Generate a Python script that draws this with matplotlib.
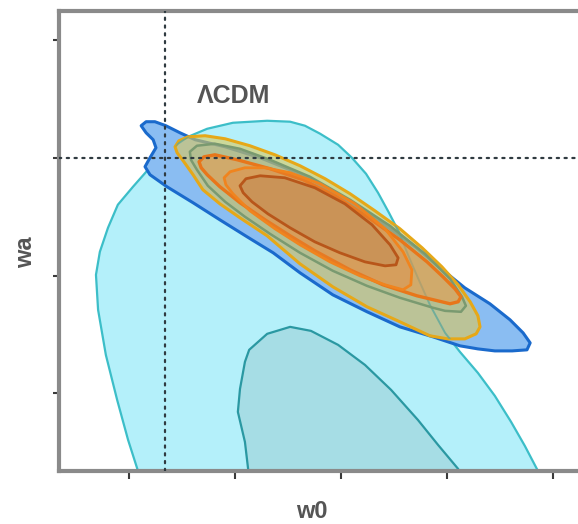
import matplotlib
matplotlib.use("Agg")
import matplotlib.pyplot as plt
from matplotlib.patches import Polygon

# ---- contour outlines in the (w0, wa) plane ----
# wide constraint, 95% region
cmb95_w0 = [-1.082, -1.076, -1.104, -1.135, -1.167, -1.189, -1.195, -1.184, -1.161, -1.133,
            -1.090, -1.050, -1.008, -0.971, -0.934, -0.880, -0.807, -0.710, -0.645, -0.603,
            -0.560, -0.509, -0.470, -0.430, -0.396, -0.365, -0.337, -0.311, -0.283, -0.249,
            -0.206, -0.164, -0.113, -0.065, -0.019, 0.020, 0.057, 0.066]
cmb95_wa = [-2.778, -2.659, -2.396, -2.056, -1.674, -1.291, -0.994, -0.799, -0.595, -0.399,
            -0.246, -0.110, 0.008, 0.102, 0.178, 0.246, 0.297, 0.314, 0.306, 0.272,
            0.204, 0.110, 0.0, -0.136, -0.297, -0.467, -0.629, -0.824, -1.020, -1.249,
            -1.487, -1.648, -1.827, -2.022, -2.243, -2.447, -2.659, -2.778]

# wide constraint, 68% region
cmb68_w0 = [-0.761, -0.764, -0.773, -0.793, -0.787, -0.773, -0.761, -0.710, -0.645, -0.586,
            -0.509, -0.433, -0.359, -0.283, -0.226, -0.169, -0.155]
cmb68_wa = [-2.778, -2.642, -2.413, -2.158, -1.963, -1.733, -1.631, -1.495, -1.436, -1.470,
            -1.589, -1.759, -1.971, -2.226, -2.438, -2.642, -2.778]

# blue combination, 95% region
blue_w0 = [-1.067, -1.053, -1.028, -0.997, -0.957, -0.914, -0.829, -0.730, -0.617, -0.504,
           -0.390, -0.291, -0.220, -0.150, -0.079, -0.022, 0.015, 0.035, 0.026, -0.016,
           -0.065, -0.113, -0.164, -0.240, -0.334, -0.427, -0.524, -0.617, -0.693, -0.767,
           -0.844, -0.920, -0.994, -1.042, -1.056, -1.042, -1.025, -1.033, -1.053]
blue_wa = [0.272, 0.306, 0.306, 0.272, 0.212, 0.153, 0.093, 0.0, -0.136, -0.323,
           -0.544, -0.756, -0.935, -1.105, -1.240, -1.376, -1.487, -1.572, -1.631, -1.640,
           -1.640, -1.623, -1.597, -1.521, -1.436, -1.308, -1.164, -0.977, -0.807, -0.671,
           -0.527, -0.382, -0.246, -0.144, -0.076, 0.0, 0.085, 0.153, 0.212]

# gold combination, 95% region
gold_w0 = [-0.971, -0.960, -0.934, -0.886, -0.829, -0.759, -0.688, -0.617, -0.546, -0.475,
           -0.405, -0.334, -0.271, -0.215, -0.169, -0.135, -0.113, -0.107, -0.118, -0.150,
           -0.198, -0.249, -0.334, -0.427, -0.524, -0.617, -0.710, -0.787, -0.844, -0.892,
           -0.920, -0.946, -0.965]
gold_wa = [0.093, 0.144, 0.178, 0.187, 0.161, 0.102, 0.025, -0.068, -0.178, -0.306,
           -0.450, -0.603, -0.765, -0.926, -1.079, -1.223, -1.342, -1.436, -1.495, -1.538,
           -1.538, -1.512, -1.393, -1.266, -1.096, -0.901, -0.663, -0.510, -0.391, -0.272,
           -0.144, -0.034, 0.042]

# grey-green combination, 95% region
green_w0 = [-0.929, -0.909, -0.858, -0.787, -0.702, -0.589, -0.475, -0.362, -0.263, -0.192,
            -0.158, -0.147, -0.161, -0.206, -0.240, -0.334, -0.427, -0.524, -0.617, -0.702,
            -0.773, -0.829, -0.878, -0.909, -0.926]
green_wa = [0.051, 0.102, 0.119, 0.076, -0.017, -0.161, -0.357, -0.578, -0.816, -1.028,
            -1.181, -1.257, -1.308, -1.300, -1.274, -1.189, -1.088, -0.960, -0.807, -0.646,
            -0.501, -0.374, -0.238, -0.102, -0.017]

# orange combination, 95% region
orange95_w0 = [-0.903, -0.889, -0.858, -0.795, -0.702, -0.608, -0.518, -0.427, -0.334, -0.257,
               -0.212, -0.178, -0.161, -0.169, -0.192, -0.286, -0.382, -0.475, -0.575, -0.645,
               -0.716, -0.787, -0.844, -0.880, -0.897]
orange95_wa = [-0.034, 0.008, 0.025, -0.017, -0.093, -0.187, -0.323, -0.501, -0.697, -0.884,
               -1.011, -1.113, -1.181, -1.223, -1.240, -1.172, -1.079, -0.952, -0.790, -0.663,
               -0.527, -0.382, -0.246, -0.144, -0.085]

# orange combination, 68% region
orange68_w0 = [-0.832, -0.815, -0.773, -0.716, -0.645, -0.560, -0.461, -0.376, -0.325, -0.300,
               -0.303, -0.325, -0.376, -0.447, -0.532, -0.617, -0.688, -0.759, -0.807, -0.827]
orange68_wa = [-0.170, -0.119, -0.085, -0.085, -0.127, -0.221, -0.391, -0.603, -0.799, -0.952,
               -1.079, -1.121, -1.079, -1.003, -0.884, -0.739, -0.603, -0.450, -0.306, -0.229]

# brown combination, 68% region
brown_w0 = [-0.787, -0.770, -0.730, -0.660, -0.575, -0.490, -0.413, -0.362, -0.339, -0.345,
            -0.376, -0.433, -0.504, -0.575, -0.645, -0.708, -0.753, -0.778]
brown_wa = [-0.238, -0.178, -0.153, -0.170, -0.255, -0.391, -0.569, -0.739, -0.850, -0.909,
            -0.918, -0.884, -0.807, -0.714, -0.595, -0.476, -0.374, -0.297]

# reference model and axis ticks
lcdm_w0, lcdm_wa = -1.0, 0.0
w0_ticks = [-1.1, -0.8, -0.5, -0.2, 0.1]
wa_ticks = [-2, -1, 0, 1]

FONT = ["Liberation Sans", "DejaVu Sans"]
TEXT_GREY = "#555555"
SPINE_GREY = "#8a8a8a"

fig = plt.figure(figsize=(5.78, 5.24), dpi=100)
fig.patch.set_facecolor("white")
ax = fig.add_axes([0.1019, 0.1011, 0.9161, 0.8788])
ax.set_xlim(-1.30, 0.20)
ax.set_ylim(-2.66, 1.25)


def region(w0, wa, face, edge, lw, z, alpha=1.0):
    p = Polygon(list(zip(w0, wa)), closed=True, facecolor=face, edgecolor=edge,
                linewidth=lw, zorder=z, joinstyle="round")
    if alpha < 1.0:
        p.set_facecolor(matplotlib.colors.to_rgba(face, alpha))
    ax.add_patch(p)
    return p


region(cmb95_w0, cmb95_wa, "#b4f0fa", "#3cbec8", 1.6, 1)
region(cmb68_w0, cmb68_wa, "#a6dde5", "#2a98a2", 1.6, 2)
region(blue_w0, blue_wa, "#8abdf2", "#1a6acc", 2.2, 3)
gold = region(gold_w0, gold_wa, "#dcc85a", "#e6a818", 2.2, 4, alpha=0.6)

# outline of the wide constraint, seen through the gold region
edge_line, = ax.plot(cmb95_w0, cmb95_wa, color="#5fa89c", lw=1.4, alpha=0.8, zorder=4.5)
edge_line.set_clip_path(gold)

region(green_w0, green_wa, "#9cb082", "#7a9a70", 1.8, 5, alpha=0.2)
region(orange95_w0, orange95_wa, "#ec9646", "#e8761a", 2.4, 6, alpha=0.5)
region(orange68_w0, orange68_wa, "#e6843a", "#f0841e", 2.0, 7, alpha=0.3)
region(brown_w0, brown_wa, "#a06e46", "#b8561a", 2.0, 8, alpha=0.22)

# reference lines
ax.axvline(lcdm_w0, color="#2f3a40", lw=1.6, linestyle=(0, (1, 2.5)),
           dash_capstyle="round", zorder=10)
ax.axhline(lcdm_wa, color="#2f3a40", lw=1.6, linestyle=(0, (1, 2.5)),
           dash_capstyle="round", zorder=10)

ax.text(-0.804, 0.527, "ΛCDM", family=FONT, fontweight="bold", fontsize=18,
        color=TEXT_GREY, ha="center", va="center", zorder=11)

# frame
for side in ("left", "bottom", "top"):
    ax.spines[side].set_color(SPINE_GREY)
    ax.spines[side].set_linewidth(3.0)
ax.spines["right"].set_visible(False)

ax.set_xticks(w0_ticks)
ax.set_yticks(wa_ticks)
ax.tick_params(axis="x", direction="out", length=6, width=1.5, color="#3a3a3a",
               labelbottom=False)
ax.tick_params(axis="y", direction="out", length=4, width=1.5, color="#3a3a3a",
               labelleft=False)

fig.text(0.540, 0.024, "w0", family=FONT, fontweight="bold", fontsize=17,
         color=TEXT_GREY, ha="center", va="center")
fig.text(0.044, 0.519, "wa", family=FONT, fontweight="bold", fontsize=17,
         color=TEXT_GREY, ha="center", va="center", rotation=90)

fig.savefig("out.png", dpi=100, facecolor="white")
